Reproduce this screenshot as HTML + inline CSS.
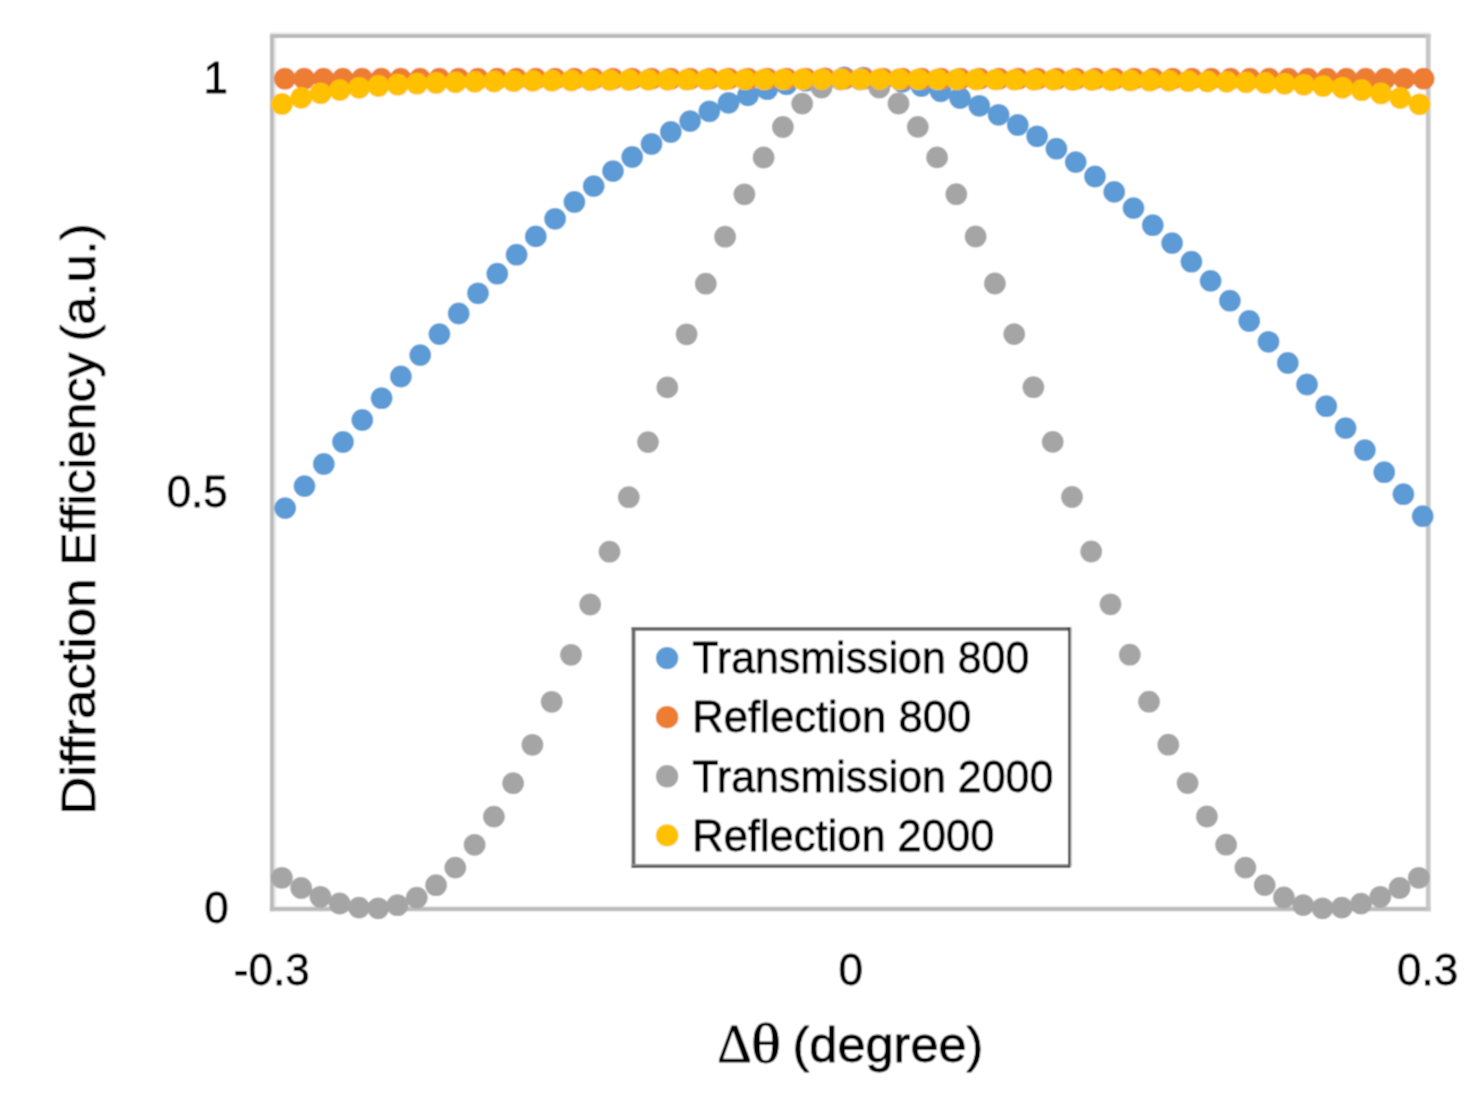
<!DOCTYPE html>
<html><head><meta charset="utf-8"><title>Diffraction Efficiency</title>
<style>
html,body{margin:0;padding:0;background:#fff;}
body{width:1478px;height:1101px;overflow:hidden;}
svg{display:block;}
text{font-family:"Liberation Sans",sans-serif;fill:#000;stroke:#000;stroke-width:0.8px;stroke-linejoin:round;}
.s{font-family:"Liberation Serif",serif;}
</style></head><body>
<svg width="1478" height="1101" viewBox="0 0 1478 1101">
<defs><filter id="soft" x="0" y="0" width="1478" height="1101" filterUnits="userSpaceOnUse"><feConvolveMatrix order="3" kernelMatrix="1 2 1 2 4 2 1 2 1" divisor="16" edgeMode="duplicate" preserveAlpha="true"/></filter></defs>
<g filter="url(#soft)">
<rect x="0" y="0" width="1478" height="1101" fill="#fff"/>
<g fill="none"><line x1="269.9" y1="33" x2="1430.6" y2="33" stroke="#efefef" stroke-width="2"/><line x1="275.1" y1="38" x2="275.1" y2="906.6" stroke="#e9e9e9" stroke-width="2.4"/><line x1="269.9" y1="36" x2="1430.6" y2="36" stroke="#bababa" stroke-width="4.1"/><line x1="269.9" y1="909" x2="1430.6" y2="909" stroke="#bcbcbc" stroke-width="4.7"/><line x1="271.9" y1="34" x2="271.9" y2="911.3" stroke="#bcbcbc" stroke-width="4"/><line x1="1428.2" y1="34" x2="1428.2" y2="911.3" stroke="#c6c6c6" stroke-width="4.8"/></g>
<g fill="#5b9bd5"><circle cx="285.2" cy="508.1" r="10.9"/><circle cx="304.5" cy="486.1" r="10.9"/><circle cx="323.8" cy="464.0" r="10.9"/><circle cx="343.0" cy="442.0" r="10.9"/><circle cx="362.3" cy="420.0" r="10.9"/><circle cx="381.6" cy="398.2" r="10.9"/><circle cx="400.9" cy="376.5" r="10.9"/><circle cx="420.2" cy="355.1" r="10.9"/><circle cx="439.4" cy="334.1" r="10.9"/><circle cx="458.7" cy="313.5" r="10.9"/><circle cx="478.0" cy="293.3" r="10.9"/><circle cx="497.3" cy="273.7" r="10.9"/><circle cx="516.6" cy="254.7" r="10.9"/><circle cx="535.8" cy="236.4" r="10.9"/><circle cx="555.1" cy="218.8" r="10.9"/><circle cx="574.4" cy="202.0" r="10.9"/><circle cx="593.7" cy="186.1" r="10.9"/><circle cx="613.0" cy="171.1" r="10.9"/><circle cx="632.2" cy="157.0" r="10.9"/><circle cx="651.5" cy="144.0" r="10.9"/><circle cx="670.8" cy="132.0" r="10.9"/><circle cx="690.1" cy="121.1" r="10.9"/><circle cx="709.4" cy="111.3" r="10.9"/><circle cx="728.6" cy="102.8" r="10.9"/><circle cx="747.9" cy="95.4" r="10.9"/><circle cx="767.2" cy="89.2" r="10.9"/><circle cx="786.5" cy="84.3" r="10.9"/><circle cx="805.8" cy="80.7" r="10.9"/><circle cx="825.0" cy="78.4" r="10.9"/><circle cx="844.3" cy="77.3" r="10.9"/><circle cx="863.6" cy="77.6" r="10.9"/><circle cx="882.9" cy="79.1" r="10.9"/><circle cx="902.2" cy="81.9" r="10.9"/><circle cx="921.4" cy="86.0" r="10.9"/><circle cx="940.7" cy="91.4" r="10.9"/><circle cx="960.0" cy="98.0" r="10.9"/><circle cx="979.3" cy="105.8" r="10.9"/><circle cx="998.6" cy="114.8" r="10.9"/><circle cx="1017.8" cy="125.0" r="10.9"/><circle cx="1037.1" cy="136.3" r="10.9"/><circle cx="1056.4" cy="148.7" r="10.9"/><circle cx="1075.7" cy="162.1" r="10.9"/><circle cx="1095.0" cy="176.5" r="10.9"/><circle cx="1114.2" cy="191.9" r="10.9"/><circle cx="1133.5" cy="208.1" r="10.9"/><circle cx="1152.8" cy="225.2" r="10.9"/><circle cx="1172.1" cy="243.1" r="10.9"/><circle cx="1191.4" cy="261.7" r="10.9"/><circle cx="1210.6" cy="280.9" r="10.9"/><circle cx="1229.9" cy="300.7" r="10.9"/><circle cx="1249.2" cy="321.0" r="10.9"/><circle cx="1268.5" cy="341.8" r="10.9"/><circle cx="1287.8" cy="363.0" r="10.9"/><circle cx="1307.0" cy="384.5" r="10.9"/><circle cx="1326.3" cy="406.2" r="10.9"/><circle cx="1345.6" cy="428.1" r="10.9"/><circle cx="1364.9" cy="450.1" r="10.9"/><circle cx="1384.2" cy="472.2" r="10.9"/><circle cx="1403.4" cy="494.2" r="10.9"/><circle cx="1422.7" cy="516.2" r="10.9"/></g>
<g fill="#ed7d31"><circle cx="284.9" cy="78.7" r="10.9"/><circle cx="304.2" cy="78.7" r="10.9"/><circle cx="323.5" cy="78.7" r="10.9"/><circle cx="342.8" cy="78.7" r="10.9"/><circle cx="362.1" cy="78.7" r="10.9"/><circle cx="381.4" cy="78.7" r="10.9"/><circle cx="400.7" cy="78.7" r="10.9"/><circle cx="420.0" cy="78.7" r="10.9"/><circle cx="439.3" cy="78.7" r="10.9"/><circle cx="458.6" cy="78.7" r="10.9"/><circle cx="477.9" cy="78.7" r="10.9"/><circle cx="497.2" cy="78.7" r="10.9"/><circle cx="516.5" cy="78.7" r="10.9"/><circle cx="535.8" cy="78.7" r="10.9"/><circle cx="555.1" cy="78.7" r="10.9"/><circle cx="574.4" cy="78.7" r="10.9"/><circle cx="593.7" cy="78.7" r="10.9"/><circle cx="613.0" cy="78.7" r="10.9"/><circle cx="632.3" cy="78.7" r="10.9"/><circle cx="651.6" cy="78.7" r="10.9"/><circle cx="670.9" cy="78.7" r="10.9"/><circle cx="690.2" cy="78.7" r="10.9"/><circle cx="709.5" cy="78.7" r="10.9"/><circle cx="728.8" cy="78.7" r="10.9"/><circle cx="748.1" cy="78.7" r="10.9"/><circle cx="767.4" cy="78.7" r="10.9"/><circle cx="786.7" cy="78.7" r="10.9"/><circle cx="806.0" cy="78.7" r="10.9"/><circle cx="825.3" cy="78.7" r="10.9"/><circle cx="844.6" cy="78.7" r="10.9"/><circle cx="863.9" cy="78.7" r="10.9"/><circle cx="883.2" cy="78.7" r="10.9"/><circle cx="902.5" cy="78.7" r="10.9"/><circle cx="921.8" cy="78.7" r="10.9"/><circle cx="941.1" cy="78.7" r="10.9"/><circle cx="960.4" cy="78.7" r="10.9"/><circle cx="979.7" cy="78.7" r="10.9"/><circle cx="999.0" cy="78.7" r="10.9"/><circle cx="1018.3" cy="78.7" r="10.9"/><circle cx="1037.6" cy="78.7" r="10.9"/><circle cx="1056.9" cy="78.7" r="10.9"/><circle cx="1076.2" cy="78.7" r="10.9"/><circle cx="1095.5" cy="78.7" r="10.9"/><circle cx="1114.8" cy="78.7" r="10.9"/><circle cx="1134.1" cy="78.7" r="10.9"/><circle cx="1153.4" cy="78.7" r="10.9"/><circle cx="1172.7" cy="78.7" r="10.9"/><circle cx="1192.0" cy="78.7" r="10.9"/><circle cx="1211.3" cy="78.7" r="10.9"/><circle cx="1230.6" cy="78.7" r="10.9"/><circle cx="1249.9" cy="78.7" r="10.9"/><circle cx="1269.2" cy="78.7" r="10.9"/><circle cx="1288.5" cy="78.7" r="10.9"/><circle cx="1307.8" cy="78.7" r="10.9"/><circle cx="1327.1" cy="78.7" r="10.9"/><circle cx="1346.4" cy="78.7" r="10.9"/><circle cx="1365.7" cy="78.7" r="10.9"/><circle cx="1385.0" cy="78.7" r="10.9"/><circle cx="1404.3" cy="78.7" r="10.9"/><circle cx="1423.6" cy="78.7" r="10.9"/></g>
<g fill="#a5a5a5"><circle cx="281.9" cy="877.8" r="10.9"/><circle cx="301.2" cy="888.0" r="10.9"/><circle cx="320.4" cy="896.8" r="10.9"/><circle cx="339.7" cy="903.5" r="10.9"/><circle cx="359.0" cy="907.6" r="10.9"/><circle cx="378.2" cy="908.3" r="10.9"/><circle cx="397.5" cy="905.2" r="10.9"/><circle cx="416.8" cy="897.6" r="10.9"/><circle cx="436.1" cy="885.2" r="10.9"/><circle cx="455.3" cy="867.6" r="10.9"/><circle cx="474.6" cy="844.8" r="10.9"/><circle cx="493.9" cy="816.6" r="10.9"/><circle cx="513.1" cy="783.2" r="10.9"/><circle cx="532.4" cy="744.8" r="10.9"/><circle cx="551.7" cy="701.8" r="10.9"/><circle cx="571.0" cy="654.8" r="10.9"/><circle cx="590.2" cy="604.5" r="10.9"/><circle cx="609.5" cy="551.7" r="10.9"/><circle cx="628.8" cy="497.2" r="10.9"/><circle cx="648.0" cy="442.1" r="10.9"/><circle cx="667.3" cy="387.4" r="10.9"/><circle cx="686.6" cy="334.3" r="10.9"/><circle cx="705.8" cy="283.7" r="10.9"/><circle cx="725.1" cy="236.7" r="10.9"/><circle cx="744.4" cy="194.3" r="10.9"/><circle cx="763.6" cy="157.5" r="10.9"/><circle cx="782.9" cy="127.0" r="10.9"/><circle cx="802.2" cy="103.6" r="10.9"/><circle cx="821.5" cy="87.6" r="10.9"/><circle cx="840.7" cy="79.5" r="10.9"/><circle cx="860.0" cy="79.5" r="10.9"/><circle cx="879.3" cy="87.6" r="10.9"/><circle cx="898.5" cy="103.5" r="10.9"/><circle cx="917.8" cy="126.9" r="10.9"/><circle cx="937.1" cy="157.4" r="10.9"/><circle cx="956.3" cy="194.2" r="10.9"/><circle cx="975.6" cy="236.5" r="10.9"/><circle cx="994.9" cy="283.5" r="10.9"/><circle cx="1014.2" cy="334.1" r="10.9"/><circle cx="1033.4" cy="387.2" r="10.9"/><circle cx="1052.7" cy="441.9" r="10.9"/><circle cx="1072.0" cy="497.0" r="10.9"/><circle cx="1091.2" cy="551.5" r="10.9"/><circle cx="1110.5" cy="604.3" r="10.9"/><circle cx="1129.8" cy="654.7" r="10.9"/><circle cx="1149.0" cy="701.7" r="10.9"/><circle cx="1168.3" cy="744.7" r="10.9"/><circle cx="1187.6" cy="783.1" r="10.9"/><circle cx="1206.9" cy="816.5" r="10.9"/><circle cx="1226.1" cy="844.7" r="10.9"/><circle cx="1245.4" cy="867.6" r="10.9"/><circle cx="1264.7" cy="885.1" r="10.9"/><circle cx="1283.9" cy="897.5" r="10.9"/><circle cx="1303.2" cy="905.1" r="10.9"/><circle cx="1322.5" cy="908.3" r="10.9"/><circle cx="1341.8" cy="907.6" r="10.9"/><circle cx="1361.0" cy="903.6" r="10.9"/><circle cx="1380.3" cy="896.8" r="10.9"/><circle cx="1399.6" cy="888.0" r="10.9"/><circle cx="1418.8" cy="877.8" r="10.9"/></g>
<g fill="#ffc000"><circle cx="282.0" cy="104.0" r="10.9"/><circle cx="301.3" cy="97.8" r="10.9"/><circle cx="320.6" cy="93.4" r="10.9"/><circle cx="339.8" cy="90.1" r="10.9"/><circle cx="359.1" cy="87.8" r="10.9"/><circle cx="378.4" cy="86.0" r="10.9"/><circle cx="397.7" cy="84.7" r="10.9"/><circle cx="417.0" cy="83.7" r="10.9"/><circle cx="436.2" cy="83.0" r="10.9"/><circle cx="455.5" cy="82.4" r="10.9"/><circle cx="474.8" cy="81.9" r="10.9"/><circle cx="494.1" cy="81.5" r="10.9"/><circle cx="513.4" cy="81.2" r="10.9"/><circle cx="532.6" cy="80.9" r="10.9"/><circle cx="551.9" cy="80.7" r="10.9"/><circle cx="571.2" cy="80.5" r="10.9"/><circle cx="590.5" cy="80.3" r="10.9"/><circle cx="609.8" cy="80.1" r="10.9"/><circle cx="629.0" cy="80.0" r="10.9"/><circle cx="648.3" cy="79.9" r="10.9"/><circle cx="667.6" cy="79.8" r="10.9"/><circle cx="686.9" cy="79.7" r="10.9"/><circle cx="706.2" cy="79.6" r="10.9"/><circle cx="725.4" cy="79.5" r="10.9"/><circle cx="744.7" cy="79.4" r="10.9"/><circle cx="764.0" cy="79.3" r="10.9"/><circle cx="783.3" cy="79.3" r="10.9"/><circle cx="802.6" cy="79.2" r="10.9"/><circle cx="821.8" cy="79.1" r="10.9"/><circle cx="841.1" cy="79.1" r="10.9"/><circle cx="860.4" cy="79.1" r="10.9"/><circle cx="879.7" cy="79.1" r="10.9"/><circle cx="899.0" cy="79.2" r="10.9"/><circle cx="918.2" cy="79.3" r="10.9"/><circle cx="937.5" cy="79.3" r="10.9"/><circle cx="956.8" cy="79.4" r="10.9"/><circle cx="976.1" cy="79.5" r="10.9"/><circle cx="995.4" cy="79.6" r="10.9"/><circle cx="1014.6" cy="79.7" r="10.9"/><circle cx="1033.9" cy="79.8" r="10.9"/><circle cx="1053.2" cy="79.9" r="10.9"/><circle cx="1072.5" cy="80.0" r="10.9"/><circle cx="1091.8" cy="80.1" r="10.9"/><circle cx="1111.0" cy="80.3" r="10.9"/><circle cx="1130.3" cy="80.5" r="10.9"/><circle cx="1149.6" cy="80.7" r="10.9"/><circle cx="1168.9" cy="80.9" r="10.9"/><circle cx="1188.2" cy="81.2" r="10.9"/><circle cx="1207.4" cy="81.5" r="10.9"/><circle cx="1226.7" cy="81.9" r="10.9"/><circle cx="1246.0" cy="82.4" r="10.9"/><circle cx="1265.3" cy="83.0" r="10.9"/><circle cx="1284.6" cy="83.8" r="10.9"/><circle cx="1303.8" cy="84.8" r="10.9"/><circle cx="1323.1" cy="86.1" r="10.9"/><circle cx="1342.4" cy="87.8" r="10.9"/><circle cx="1361.7" cy="90.2" r="10.9"/><circle cx="1381.0" cy="93.5" r="10.9"/><circle cx="1400.2" cy="98.0" r="10.9"/><circle cx="1419.5" cy="104.3" r="10.9"/></g>
<g font-size="44" text-anchor="end"><text x="228" y="92.8">1</text><text x="227.8" y="507">0.5</text><text x="228.8" y="923">0</text></g>
<g font-size="44" text-anchor="middle"><text x="271.7" y="985">-0.3</text><text x="850.7" y="985">0</text><text x="1427.6" y="985">0.3</text></g>
<text x="717.3" y="1062.3" font-size="55" class="s" textLength="34.5" lengthAdjust="spacingAndGlyphs">Δ</text><text x="751" y="1062.3" font-size="54" class="s" textLength="30" lengthAdjust="spacingAndGlyphs">θ</text><text x="792.5" y="1062.3" font-size="50.5">(degree)</text>
<text transform="translate(94.9,814.8) rotate(-90)" font-size="49" textLength="236.5" lengthAdjust="spacingAndGlyphs">Diffraction</text><text transform="translate(94.9,565.5) rotate(-90)" font-size="49" textLength="213" lengthAdjust="spacingAndGlyphs">Efficiency</text><text transform="translate(94.9,341.5) rotate(-90)" font-size="49" textLength="118" lengthAdjust="spacingAndGlyphs">(a.u.)</text>
<rect x="633.5" y="629" width="436" height="237.5" fill="#fff"/><rect x="631.6" y="627.1" width="3.8" height="240.7" fill="#666"/><rect x="631.6" y="627.1" width="438.6" height="3.7" fill="#686868"/><rect x="1070.2" y="627.1" width="1.7" height="239.5" fill="#b8b8b8"/><rect x="1068.1" y="627.1" width="2.1" height="240.7" fill="#2b2b2b"/><rect x="631.6" y="864" width="437" height="2" fill="#8a8a8a"/><rect x="631.6" y="866" width="438.6" height="1.8" fill="#444"/>
<circle cx="667.1" cy="658.1" r="11.2" fill="#5b9bd5"/><text x="692.3" y="673.3" font-size="44" textLength="337" lengthAdjust="spacingAndGlyphs">Transmission 800</text>
<circle cx="667.1" cy="717.2" r="11.2" fill="#ed7d31"/><text x="692.3" y="732.4" font-size="44" textLength="279" lengthAdjust="spacingAndGlyphs">Reflection 800</text>
<circle cx="667.1" cy="776.3" r="11.2" fill="#a5a5a5"/><text x="692.3" y="791.5" font-size="44" textLength="361" lengthAdjust="spacingAndGlyphs">Transmission 2000</text>
<circle cx="667.1" cy="835.4" r="11.2" fill="#ffc000"/><text x="692.3" y="850.6" font-size="44" textLength="302" lengthAdjust="spacingAndGlyphs">Reflection 2000</text>
</g>
</svg></body></html>
